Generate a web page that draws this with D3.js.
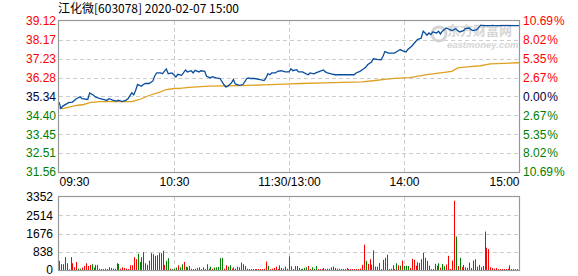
<!DOCTYPE html>
<html>
<head>
<meta charset="utf-8">
<script src="https://cdn.jsdelivr.net/npm/d3@7"></script>
<style>
  body { margin: 0; background: #fff; }
  svg text { font-family: "Liberation Sans", Arial, sans-serif; font-size: 12px; }
</style>
</head>
<body>
<svg id="chart" width="578" height="276"></svg>
<script>
// chart data
const title = "江化微[603078] 2020-02-07 15:00";
const preClose = 35.34;
const priceTicks = [39.12, 38.17, 37.23, 36.28, 35.34, 34.40, 33.45, 32.51, 31.56];
const pctTicks = ["10.69", "8.02", "5.35", "2.67", "0.00", "2.67", "5.35", "8.02", "10.69"];
const volTicks = [3352, 2514, 1676, 838, 0];
const timeLabels = ["09:30", "10:30", "11:30/13:00", "14:00", "15:00"];
const timeTickMin = [0, 60, 120, 180, 240];

// minute index (0..240) and last price
const priceMin = [0,1,2,5,7,9,11,12,15,16,18,19,21,23,25,26,28,30,31,33,35,36,38,39,40,41,43,44,45,47,49,50,51,53,54,56,57,59,61,62,64,66,67,69,70,71,73,74,76,77,79,80,82,84,86,87,88,90,91,92,93,94,96,98,99,100,102,105,107,108,109,110,111,113,114,116,118,120,121,122,124,125,127,128,130,131,133,134,136,138,139,140,142,144,147,151,154,155,157,159,160,161,163,164,166,168,169,170,172,174,175,177,178,179,181,182,184,186,187,189,190,191,192,193,194,195,197,198,199,200,202,204,205,207,208,209,211,212,214,215,216,218,220,221,240];
const price = [35.06,34.74,34.86,35.03,35.06,35.23,35.32,35.23,35.19,35.52,35.40,35.32,35.24,35.19,35.14,35.23,35.16,35.11,35.16,35.09,35.16,35.23,35.52,35.42,35.65,35.94,35.85,35.94,35.99,35.99,36.12,36.38,36.52,36.52,36.48,36.72,36.48,36.52,36.32,36.45,36.40,36.67,36.57,36.63,36.52,36.65,36.57,36.63,36.60,36.35,36.27,36.33,36.27,36.24,35.94,35.82,35.85,36.02,36.19,35.97,35.94,35.90,35.94,36.24,36.27,36.24,36.24,36.19,36.14,36.27,36.48,36.43,36.52,36.52,36.60,36.63,36.57,36.57,36.73,36.63,36.68,36.57,36.57,36.52,36.43,36.52,36.47,36.52,36.60,36.67,36.57,36.52,36.47,36.43,36.43,36.43,36.43,36.52,36.60,36.73,36.80,36.93,37.07,37.23,37.20,37.18,37.34,37.59,37.51,37.51,37.51,37.63,37.69,37.64,37.57,37.69,37.86,38.08,38.19,38.27,38.61,38.52,38.41,38.52,38.44,38.57,38.52,38.61,38.47,38.61,38.77,38.69,38.64,38.74,38.64,38.57,38.64,38.74,38.77,38.69,38.64,38.69,38.91,38.89,38.89];

// average price line
const avgMin = [0,2,9,13,16,21,38,42,47,53,56,60,63,68,78,94,107,121,126,138,158,165,170,175,180,183,192,205,208,213,220,225,240];
const avgPrice = [34.77,34.73,34.89,34.94,35.03,35.08,35.08,35.19,35.39,35.57,35.69,35.74,35.75,35.80,35.86,35.88,35.92,35.97,35.99,36.02,36.07,36.14,36.20,36.25,36.27,36.28,36.43,36.60,36.77,36.82,36.88,36.97,37.03];

// volume per minute (lots) and up/down flag
const volume = [420,265,265,590,310,30,590,310,125,370,
  60,60,110,185,310,185,235,265,110,235,
  235,60,45,45,60,45,125,95,60,60,
  310,280,60,125,95,60,45,215,215,590,
  495,745,370,590,820,310,235,435,775,730,
  650,680,775,775,885,235,420,545,60,45,
  60,110,215,125,265,370,155,125,185,60,
  45,60,95,125,45,125,45,265,60,155,
  60,110,125,140,545,560,60,215,155,215,
  60,125,60,155,125,340,265,185,60,45,
  45,45,45,45,45,45,45,60,390,185,
  45,60,95,155,45,215,95,60,155,60,
  620,
  170,45,185,185,95,45,60,95,125,185,
  45,125,60,185,45,45,45,95,45,60,
  60,125,155,95,60,60,45,45,45,95,
  45,45,45,45,45,45,60,235,1165,420,
  280,495,250,900,155,155,325,45,465,560,
  700,45,60,215,45,310,215,200,435,185,
  200,185,95,510,465,200,355,325,495,790,
  560,420,200,45,45,280,200,310,110,280,
  170,250,650,45,435,3180,1535,185,560,125,
  235,125,95,340,95,435,495,155,235,125,
  185,1765,1025,960,125,95,60,95,45,45,
  45,45,45,60,215,45,45,45,45,60];
const volUp = ("grrgrrgrrr" + "ggrrrrrggr" + "ggrggrgrrg" + "ggrrrrrrrr" + "rggrgrrrrr" +
  "gggrgrggrg" + "ggrggrgggr" + "rgrrrgrrgg" + "rggggg" + "rrgg" + "rggrgrrgrr" +
  "rrrrrrrrrg" + "rrrrrrggrr" + "r" +
  "rgrrgggggr" + "rgggrrrrrg" + "grgrrrrrrg" + "rrrrrrrrrg" + "rrgrgggrrr" +
  "ggggrgrgrg" + "ggrrrrrrgr" + "gggrrrrgrg" + "grrrrrgrgr" + "grggrgrgrr" +
  "grrrrrrrrr" + "rrrrrrrrrr").split("");

const svg = d3.select("#chart");
const L = 59, R = 519;
const P = { top: 21, bottom: 172 };
const V = { top: 197, bottom: 270 };

const x = d3.scaleLinear().domain([0, 240]).range([L, R]);
const y = d3.scaleLinear().domain([31.56, 39.12]).range([P.bottom, P.top]);
const yv = d3.scaleLinear().domain([0, 3352]).range([V.bottom, V.top]);

const red = "#ff0000", green = "#008000", dark = "#00003c";

// title
svg.append("text").attr("x", 58).attr("y", 13)
  .style("font-family", "'Noto Sans CJK SC', sans-serif").style("font-size", "12px")
  .attr("fill", "#000").text(title);

// watermark
const wm = svg.append("g").attr("fill", "#c8c8c8").attr("opacity", 0.75);
wm.append("text").attr("x", 447).attr("y", 35)
  .style("font-family", "'Noto Sans CJK SC', sans-serif").style("font-size", "13px").style("font-weight", "bold")
  .text("东方财富网");
wm.append("text").attr("x", 447).attr("y", 48)
  .style("font-size", "9.5px").style("font-weight", "bold").style("font-style", "italic")
  .text("eastmoney.com");
wm.append("circle").attr("cx", 439).attr("cy", 34).attr("r", 7).attr("fill", "none")
  .attr("stroke", "#c8c8c8").attr("stroke-width", 3);

// grids
function grid(yScale, ticks, top, bottom) {
  const g = svg.append("g");
  g.selectAll("line.h").data(ticks.slice(1, -1)).enter().append("line")
    .attr("x1", L).attr("x2", R)
    .attr("y1", d => Math.round(yScale(d)) + 0.5).attr("y2", d => Math.round(yScale(d)) + 0.5)
    .attr("stroke", "#ccc").attr("stroke-dasharray", "4,3");
  g.selectAll("line.v").data(timeTickMin.slice(1, -1)).enter().append("line")
    .attr("x1", d => Math.round(x(d)) + 0.5).attr("x2", d => Math.round(x(d)) + 0.5)
    .attr("y1", top).attr("y2", bottom)
    .attr("stroke", "#ccc").attr("stroke-dasharray", "4,3");
}
grid(y, priceTicks, P.top, P.bottom);
grid(yv, volTicks, V.top, V.bottom);

// volume bars
svg.append("g").selectAll("rect").data(volume).enter().append("rect")
  .attr("x", (d, i) => Math.round(x(i)))
  .attr("y", d => yv(d))
  .attr("width", 1)
  .attr("height", d => V.bottom - yv(d))
  .attr("fill", (d, i) => volUp[i] === "r" ? red : green);

// price lines
const pts = priceMin.map((m, i) => [m, price[i]]);
const avgPts = avgMin.map((m, i) => [m, avgPrice[i]]);
const line = d3.line().x(d => x(d[0])).y(d => y(d[1]));
svg.append("path").attr("d", line(avgPts)).attr("fill", "none")
  .attr("stroke", "#e0a020").attr("stroke-width", 1.3);
svg.append("path").attr("d", line(pts)).attr("fill", "none")
  .attr("stroke", "#0a4f9e").attr("stroke-width", 1.3);

// frames
[[P.top, P.bottom], [V.top, V.bottom]].forEach(([t, b]) => {
  svg.append("rect").attr("x", L - 0.5).attr("y", t - 0.5)
    .attr("width", R - L + 1).attr("height", b - t + 1)
    .attr("fill", "none").attr("stroke", "#999").attr("stroke-width", 1.2);
});

// axes (labels only)
const colorFor = (d) => d > preClose ? red : d < preClose ? green : dark;

const leftAxis = svg.append("g").attr("transform", "translate(56,0)")
  .call(d3.axisLeft(y).tickValues(priceTicks).tickSize(0).tickPadding(0).tickFormat(d3.format(".2f")));
leftAxis.select(".domain").remove();
leftAxis.selectAll("text").attr("fill", d => colorFor(d)).style("font-size", "12px");

const rightAxis = svg.append("g").attr("transform", "translate(523,0)")
  .call(d3.axisRight(y).tickValues(priceTicks).tickSize(0).tickPadding(0)
    .tickFormat((d, i) => pctTicks[i]));
rightAxis.select(".domain").remove();
rightAxis.selectAll("text").attr("fill", d => colorFor(d)).style("font-size", "12px")
  .append("tspan").attr("dx", 1).text("%");

const volAxis = svg.append("g").attr("transform", "translate(53,0)")
  .call(d3.axisLeft(yv).tickValues(volTicks).tickSize(0).tickPadding(0).tickFormat(d3.format("d")));
volAxis.select(".domain").remove();
volAxis.selectAll("text").attr("fill", "#000").style("font-size", "12px");

const timeAxis = svg.append("g").attr("transform", `translate(0,${P.bottom + 3})`)
  .call(d3.axisBottom(x).tickValues(timeTickMin).tickSize(0).tickPadding(0)
    .tickFormat((d, i) => timeLabels[i]));
timeAxis.select(".domain").remove();
timeAxis.selectAll("text").attr("fill", "#000").style("font-size", "12px")
  .attr("text-anchor", (d, i) => i === 0 ? "start" : i === timeLabels.length - 1 ? "end" : "middle")
  .attr("dy", "0.9em");
</script>
</body>
</html>
